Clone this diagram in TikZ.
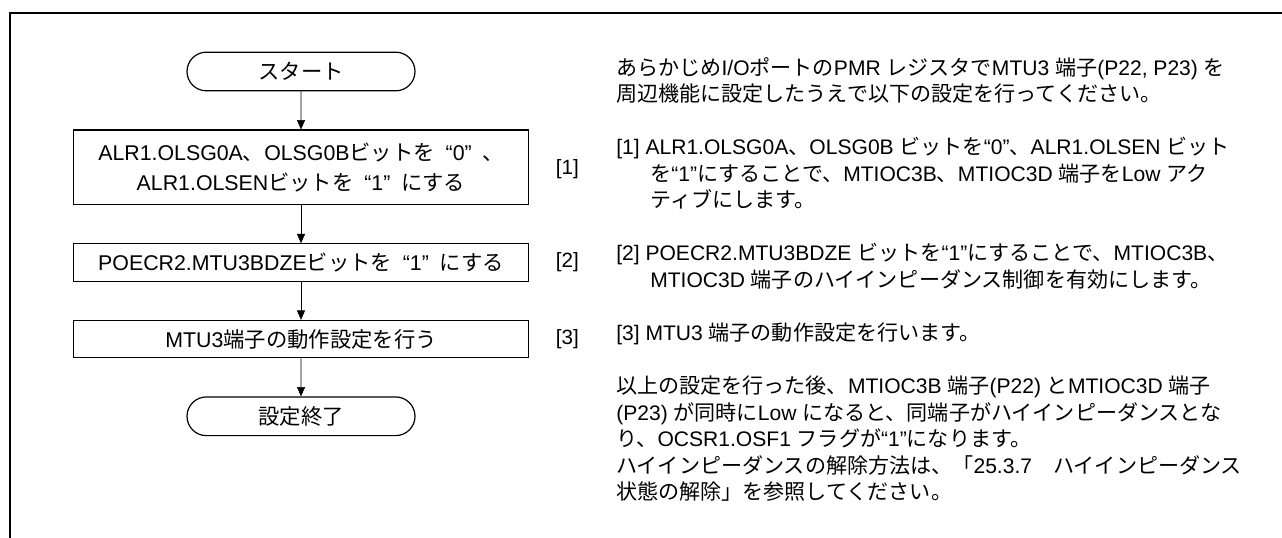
\documentclass[tikz,border=0pt]{standalone}
\usepackage{fontspec}
\setmainfont{Liberation Sans}
\newfontfamily\latinfont{Liberation Sans}
\newfontfamily\jpfont{Noto Sans CJK JP}
\usetikzlibrary{positioning,shapes.misc,arrows.meta}

% kana, kanji and full-width forms are set in the Japanese font
\XeTeXinterchartokenstate=1
\newXeTeXintercharclass\jpclass
\newcount\jpcode
\def\setclassrange#1#2#3{\jpcode=#1\relax
  \loop\XeTeXcharclass\jpcode=#3\relax\advance\jpcode by 1\relax\ifnum\jpcode<#2\repeat}
\setclassrange{"0021}{"007F}{0}
\setclassrange{"2018}{"2020}{0}
\setclassrange{"3000}{"3100}{\jpclass}
\setclassrange{"4E00}{"A000}{\jpclass}
\setclassrange{"FF00}{"FFF0}{\jpclass}
\XeTeXinterchartoks 0 \jpclass={\jpfont}
\XeTeXinterchartoks 4095 \jpclass={\jpfont}
\XeTeXinterchartoks \jpclass 0={\latinfont}
\XeTeXinterchartoks \jpclass 4095={\latinfont}

\begin{document}
\begin{tikzpicture}[x=0.75pt,y=-0.75pt,
  term/.style={draw,line width=0.9pt,rounded rectangle,minimum width=171pt,minimum height=29pt,inner sep=0pt,font=\fontsize{16}{23}\selectfont},
  stepbox/.style={draw,line width=0.9pt,rectangle,minimum width=341pt,minimum height=28pt,inner sep=0pt,align=center,font=\fontsize{16}{23}\selectfont},
  tag/.style={inner sep=0pt,font=\fontsize{15.5}{18}\selectfont},
  note/.style={inner sep=0pt,anchor=base west,font=\fontsize{15.8}{18}\selectfont},
  node distance=28.5pt,
  >={Triangle[length=7pt,width=6pt]}]
\useasboundingbox (0,0) rectangle (1282,538);
\draw[line width=1.5pt] (10,538) -- (10,13) -- (1282,13);
% flow
\node[term] (start) at (301,71.5) {スタート};
\node[stepbox,below=of start,minimum height=56pt] (s1) {ALR1.OLSG0A、OLSG0Bビットを\hspace{.5em}“0”\hspace{.5em}、\\ALR1.OLSENビットを\hspace{.5em}“1”\hspace{.5em}にする};
\node[stepbox,below=of s1] (s2) {POECR2.MTU3BDZEビットを\hspace{.5em}“1”\hspace{.5em}にする};
\node[stepbox,below=of s2] (s3) {MTU3端子の動作設定を行う};
\node[term,below=of s3] (stop) {設定終了};
\foreach \a/\b in {start/s1,s1/s2,s2/s3,s3/stop} \draw[->] (\a) -- (\b);
\node[tag,right=20pt of s1,yshift=-1.5pt] (n1) {[1]};
\node[tag,right=20pt of s2] (n2) {[2]};
\node[tag,right=20pt of s3] (n3) {[3]};
% notes on the right
\foreach \n/\x/\t in {0/616/{あらかじめI/OポートのPMR レジスタでMTU3 端子(P22, P23) を},
  1/616/{周辺機能に設定したうえで以下の設定を行ってください。},
  3/616/{[1] ALR1.OLSG0A、OLSG0B ビットを“0”、ALR1.OLSEN ビット},
  4/650/{を“1”にすることで、MTIOC3B、MTIOC3D 端子をLow アク},
  5/650/{ティブにします。},
  7/616/{[2] POECR2.MTU3BDZE ビットを“1”にすることで、MTIOC3B、},
  8/650/{MTIOC3D 端子のハイインピーダンス制御を有効にします。},
  10/616/{[3] MTU3 端子の動作設定を行います。},
  12/616/{以上の設定を行った後、MTIOC3B 端子(P22) とMTIOC3D 端子},
  13/616/{(P23) が同時にLow になると、同端子がハイインピーダンスとな},
  14/616/{り、OCSR1.OSF1 フラグが“1”になります。},
  15/616/{ハイインピーダンスの解除方法は、「25.3.7　ハイインピーダンス},
  16/616/{状態の解除」を参照してください。}}
  \node[note] (t\n) at (\x,{75.5+26.5*\n}) {\t};
\end{tikzpicture}
\end{document}
